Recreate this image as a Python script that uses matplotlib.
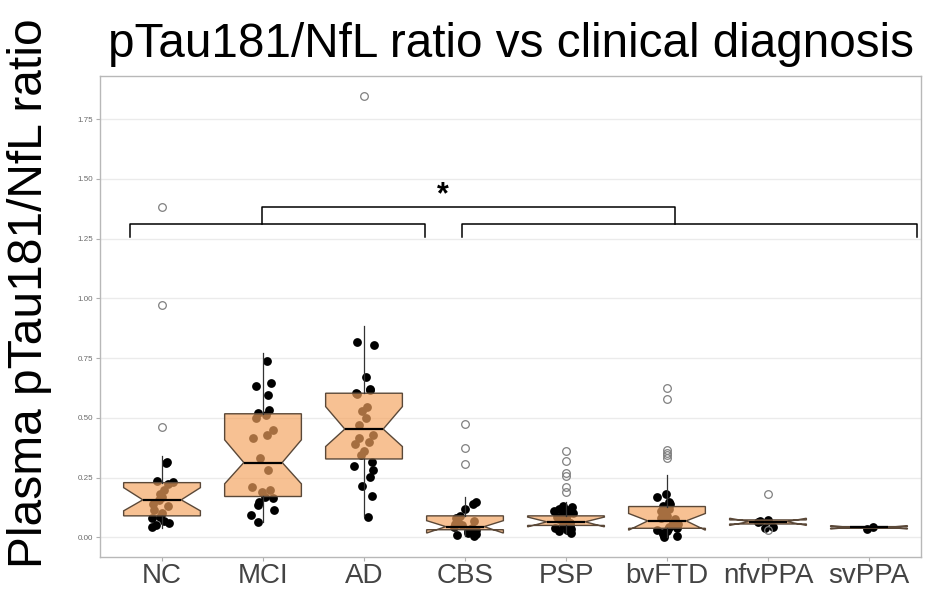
import numpy as np
import matplotlib.pyplot as plt

plt.rcParams['font.family'] = ['Liberation Sans', 'DejaVu Sans']


# Groups on the x axis
groups = ["NC", "MCI", "AD", "CBS", "PSP", "bvFTD", "nfvPPA", "svPPA"]

# Box statistics
q1 = [0.090, 0.171, 0.328, 0.032, 0.050, 0.038, 0.056, 0.038]
median = [0.157, 0.313, 0.453, 0.045, 0.065, 0.069, 0.066, 0.042]
q3 = [0.229, 0.517, 0.603, 0.090, 0.090, 0.129, 0.073, 0.045]
notch_lo = [0.111, 0.224, 0.380, 0.018, 0.044, 0.030, 0.050, 0.035]
notch_hi = [0.208, 0.408, 0.547, 0.070, 0.085, 0.100, 0.080, 0.049]
whisker_lo = [0.040, 0.066, 0.090, 0.005, 0.020, 0.000, 0.056, 0.038]
whisker_hi = [0.341, 0.772, 0.885, 0.170, 0.150, 0.260, 0.073, 0.045]

# Outliers (open circles)
outliers = [
    [0.46, 0.97, 1.38],
    [],
    [1.845],
    [0.305, 0.372, 0.475],
    [0.19, 0.21, 0.255, 0.27, 0.32, 0.36],
    [0.33, 0.345, 0.355, 0.365, 0.58, 0.625],
    [0.03, 0.18],
    [],
]

# Individual values (black jittered points)
points = [
    [0.044, 0.05, 0.06, 0.07, 0.08, 0.086, 0.1, 0.115, 0.13, 0.14, 0.155,
     0.17, 0.18, 0.2, 0.225, 0.23, 0.235, 0.31, 0.317],
    [0.066, 0.094, 0.115, 0.136, 0.15, 0.165, 0.17, 0.19, 0.2, 0.21, 0.282,
     0.333, 0.415, 0.43, 0.45, 0.5, 0.51, 0.52, 0.533, 0.596, 0.635, 0.647,
     0.736],
    [0.087, 0.174, 0.213, 0.254, 0.282, 0.3, 0.317, 0.345, 0.36, 0.39, 0.4,
     0.415, 0.43, 0.47, 0.5, 0.53, 0.547, 0.6, 0.605, 0.617, 0.62, 0.669,
     0.805, 0.819],
    [0.005, 0.01, 0.015, 0.02, 0.025, 0.03, 0.035, 0.04, 0.045, 0.05, 0.055,
     0.06, 0.065, 0.07, 0.08, 0.09, 0.12, 0.14, 0.15],
    [0.02, 0.025, 0.03, 0.035, 0.04, 0.045, 0.05, 0.055, 0.06, 0.062, 0.065,
     0.07, 0.075, 0.08, 0.085, 0.09, 0.095, 0.1, 0.105, 0.11, 0.115, 0.12,
     0.125, 0.13],
    [0.0, 0.005, 0.01, 0.015, 0.02, 0.025, 0.03, 0.035, 0.04, 0.045, 0.05,
     0.055, 0.06, 0.065, 0.07, 0.075, 0.08, 0.09, 0.1, 0.11, 0.12, 0.13,
     0.14, 0.15, 0.17, 0.18],
    [0.04, 0.042, 0.065, 0.07, 0.073],
    [0.035, 0.042],
]

# Significance brackets (x in group units, y in ratio units)
bracket_left = [0.68, 3.60]
bracket_right = [3.97, 8.48]
bracket_top = [1.99, 6.08]
bracket_low_y = 1.312
bracket_tick_y = 1.255
bracket_top_y = 1.383
star_pos = (3.78, 1.43)


fig = plt.figure(figsize=(9.26, 5.95), dpi=100)
ax = fig.add_axes([0.108, 0.0639, 0.8866, 0.8084])

positions = np.arange(1, len(groups) + 1)


# Jittered points first, so the transparent boxes tint them
rng = np.random.default_rng(3)
for pos, vals in zip(positions, points):
    xj = pos + rng.uniform(-0.12, 0.12, len(vals))
    ax.scatter(xj, vals, s=40, color="black", linewidths=0, zorder=2)


# Notched boxes
stats = []
for i in range(len(groups)):
    stats.append({
        "med": median[i], "q1": q1[i], "q3": q3[i],
        "cilo": notch_lo[i], "cihi": notch_hi[i],
        "whislo": whisker_lo[i], "whishi": whisker_hi[i],
        "fliers": outliers[i],
    })

ax.bxp(
    stats,
    positions=positions,
    widths=0.76,
    shownotches=True,
    patch_artist=True,
    showcaps=False,
    boxprops=dict(facecolor=(0.957, 0.643, 0.376, 0.68), edgecolor="#5a4838", linewidth=1.0),
    medianprops=dict(color="black", linewidth=1.6),
    whiskerprops=dict(color="#333333", linewidth=0.9),
    flierprops=dict(marker="o", markerfacecolor="none", markeredgecolor="#808080",
                    markersize=5.5, markeredgewidth=0.9),
    zorder=3,
)


# Brackets and star
lw = 1.1
ax.plot([bracket_left[0], bracket_left[0], bracket_left[1], bracket_left[1]],
        [bracket_tick_y, bracket_low_y, bracket_low_y, bracket_tick_y],
        color="black", linewidth=lw, zorder=4)
ax.plot([bracket_right[0], bracket_right[0], bracket_right[1], bracket_right[1]],
        [bracket_tick_y, bracket_low_y, bracket_low_y, bracket_tick_y],
        color="black", linewidth=lw, zorder=4)
ax.plot([bracket_top[0], bracket_top[0], bracket_top[1], bracket_top[1]],
        [bracket_low_y, bracket_top_y, bracket_top_y, bracket_low_y],
        color="black", linewidth=lw, zorder=4)
ax.text(star_pos[0], star_pos[1], "*", fontsize=22, fontweight="bold",
        ha="center", va="center", zorder=5)


# Axes styling
ax.set_xlim(0.386, 8.515)
ax.set_ylim(-0.082, 1.930)
ax.set_xticks(positions)
ax.set_xticklabels(groups, fontsize=20, color="#444444")
ax.tick_params(axis="x", length=3, width=0.8, color="#b0b0b0", pad=1.5)
ax.set_yticks([0, 0.25, 0.5, 0.75, 1.0, 1.25, 1.5, 1.75])
ax.set_yticklabels(["0.00", "0.25", "0.50", "0.75", "1.00", "1.25", "1.50", "1.75"])
ax.tick_params(axis="y", labelsize=5.8, labelcolor="#6b6b6b", color="#b0b0b0",
               length=3, width=0.8, pad=2)
ax.grid(axis="y", color="#ebebeb", linewidth=1.0)
ax.set_axisbelow(True)
for side in ["left", "top", "right", "bottom"]:
    ax.spines[side].set_color("#b8b8b8")
    ax.spines[side].set_linewidth(1.0)


fig.text(511 / 926, 1 - 57 / 595, "pTau181/NfL ratio vs clinical diagnosis",
         fontsize=34.3, ha="center", va="baseline")
fig.text(30 / 926, 1 - 293 / 595, "Plasma pTau181/NfL ratio",
         fontsize=34.5, rotation=90, ha="center", va="center")

fig.savefig("out.png", dpi=100)
